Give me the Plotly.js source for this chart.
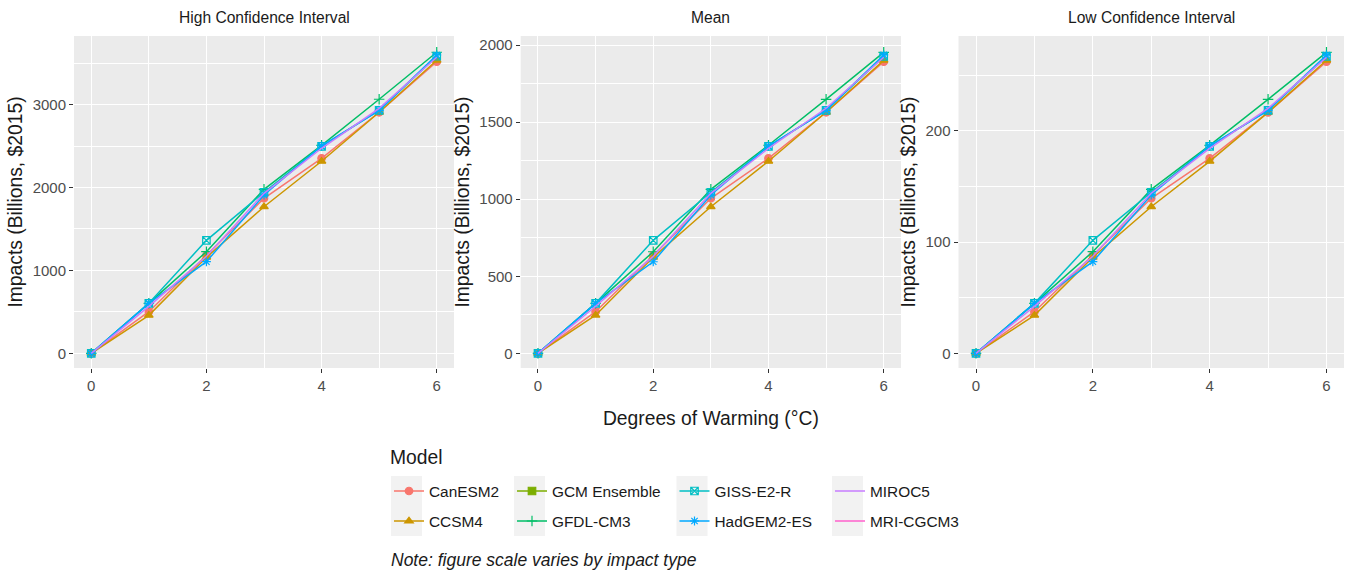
<!DOCTYPE html>
<html>
<head>
<meta charset="utf-8">
<script src="https://cdn.plot.ly/plotly-3.0.1.min.js"></script>
<style>html,body{margin:0;padding:0;background:#fff;}#chart{width:1349px;height:571px;}</style>
</head>
<body>
<div id="chart"></div>
<script>
// ---------------- DATA ----------------
const warming = [0, 1, 2, 3, 4, 5, 6];
const panelTitles = ["High Confidence Interval", "Mean", "Low Confidence Interval"];
const modelNames = ["CanESM2", "CCSM4", "GCM Ensemble", "GFDL-CM3", "GISS-E2-R", "HadGEM2-ES", "MIROC5", "MRI-CGCM3"];
const modelColors = ["#F8766D", "#CD9600", "#7CAE00", "#00BE67", "#00BFC4", "#00A9FF", "#C77CFF", "#FF61CC"];
const modelSymbols = ["circle", "triangle-up", "square", "cross-thin-open", "square-x-open", "asterisk-open", null, null];

// High Confidence Interval (Billions $2015)
const highCanESM2   = [0, 502, 1182, 1870, 2352, 2907, 3517];
const highCCSM4     = [0, 458, 1158, 1768, 2316, 2907, 3534];
const highGFDLCM3   = [0, 603, 1226, 1978, 2509, 3064, 3631];
const highGISSE2R   = [0, 603, 1363, 1942, 2497, 2931, 3583];
const highHadGEM2ES = [0, 603, 1105, 1909, 2501, 2931, 3598];
const highMIROC5    = [0, 567, 1170, 1930, 2473, 2955, 3571];

// Mean
const meanCanESM2   = [0, 270, 636, 1006, 1265, 1564, 1892];
const meanCCSM4     = [0, 247, 623, 951, 1246, 1564, 1901];
const meanGFDLCM3   = [0, 324, 659, 1064, 1350, 1648, 1953];
const meanGISSE2R   = [0, 324, 733, 1045, 1343, 1577, 1927];
const meanHadGEM2ES = [0, 324, 594, 1027, 1345, 1577, 1936];
const meanMIROC5    = [0, 305, 629, 1038, 1330, 1590, 1921];

// Low Confidence Interval
const lowCanESM2   = [0, 37.4, 88.1, 139.3, 175.2, 216.5, 262.0];
const lowCCSM4     = [0, 34.1, 86.3, 131.7, 172.5, 216.5, 263.3];
const lowGFDLCM3   = [0, 44.9, 91.3, 147.3, 186.9, 228.2, 270.4];
const lowGISSE2R   = [0, 44.9, 101.5, 144.7, 186.0, 218.3, 266.8];
const lowHadGEM2ES = [0, 44.9, 82.3, 142.2, 186.3, 218.3, 268.0];
const lowMIROC5    = [0, 42.2, 87.2, 143.8, 184.2, 220.1, 265.9];

const panelSeries = [
  {CanESM2: highCanESM2, CCSM4: highCCSM4, "GFDL-CM3": highGFDLCM3, "GISS-E2-R": highGISSE2R, "HadGEM2-ES": highHadGEM2ES, MIROC5: highMIROC5},
  {CanESM2: meanCanESM2, CCSM4: meanCCSM4, "GFDL-CM3": meanGFDLCM3, "GISS-E2-R": meanGISSE2R, "HadGEM2-ES": meanHadGEM2ES, MIROC5: meanMIROC5},
  {CanESM2: lowCanESM2, CCSM4: lowCCSM4, "GFDL-CM3": lowGFDLCM3, "GISS-E2-R": lowGISSE2R, "HadGEM2-ES": lowHadGEM2ES, MIROC5: lowMIROC5}
];

// ---------------- LAYOUT HELPERS ----------------
const W = 1349, H = 571;
const px = v => v / W;
const py = v => 1 - v / H;
const FONT = "Liberation Sans, Arial, sans-serif";

const panelX = [[74, 454], [520.7, 901], [958.5, 1344]];
const plotTop = 36, plotBottom = 368;
const yRanges = [[-177, 3827], [-95.4, 2059], [-13.2, 285.1]];
const yDticks = [1000, 500, 100];

const legendSlots = [
  [389, 491.5], [389, 521.5],
  [512, 491.5], [512, 521.5],
  [674.5, 491.5], [674.5, 521.5],
  [830, 491.5], [830, 521.5]
];

const traces = [];
for (let p = 0; p < 3; p++) {
  const xa = p === 0 ? "x" : "x" + (p + 1);
  const ya = p === 0 ? "y" : "y" + (p + 1);
  modelNames.forEach((m, i) => {
    const vals = panelSeries[p][m];
    const leg = i === 0 ? "legend" : "legend" + (i + 1);
    const hasData = !!vals;
    if (!hasData && p > 0) return;
    const t = {
      type: "scatter",
      x: hasData ? warming : [null],
      y: hasData ? vals : [null],
      xaxis: xa, yaxis: ya,
      name: m,
      legend: leg,
      legendgroup: m,
      showlegend: p === 0,
      mode: modelSymbols[i] ? "lines+markers" : "lines",
      line: {color: modelColors[i], width: 1.5},
      hoverinfo: "x+y+name"
    };
    if (modelSymbols[i]) {
      t.marker = {symbol: modelSymbols[i], size: 7.5, color: modelColors[i], line: {color: modelColors[i], width: 1.2}};
    }
    traces.push(t);
  });
}

const layout = {
  width: W, height: H,
  margin: {l: 0, r: 0, t: 0, b: 0},
  paper_bgcolor: "#ffffff",
  plot_bgcolor: "#ebebeb",
  font: {family: FONT, color: "#1a1a1a"},
  hovermode: "closest",
  shapes: [], annotations: []
};

for (let p = 0; p < 3; p++) {
  const xk = p === 0 ? "xaxis" : "xaxis" + (p + 1);
  const yk = p === 0 ? "yaxis" : "yaxis" + (p + 1);
  const yref = p === 0 ? "y" : "y" + (p + 1);
  const xref = p === 0 ? "x" : "x" + (p + 1);
  layout[xk] = {
    domain: [px(panelX[p][0]), px(panelX[p][1])],
    anchor: yref,
    range: [-0.3, 6.3],
    tick0: 0, dtick: 2,
    showgrid: true, gridcolor: "#ffffff", gridwidth: 1.4,
    minor: {dtick: 1, tick0: 0, showgrid: true, gridcolor: "#ffffff", gridwidth: 0.7, ticks: ""},
    zeroline: false, showline: false,
    ticks: "outside", ticklen: 4, tickwidth: 1, tickcolor: "#333333",
    tickfont: {family: FONT, size: 15, color: "#4d4d4d"},
    fixedrange: true
  };
  layout[yk] = {
    domain: [py(plotBottom), py(plotTop)],
    anchor: xref,
    range: yRanges[p],
    tick0: 0, dtick: yDticks[p],
    showgrid: true, gridcolor: "#ffffff", gridwidth: 1.4,
    minor: {dtick: yDticks[p] / 2, tick0: 0, showgrid: true, gridcolor: "#ffffff", gridwidth: 0.7, ticks: ""},
    zeroline: false, showline: false,
    ticks: "outside", ticklen: 4, tickwidth: 1, tickcolor: "#333333",
    tickfont: {family: FONT, size: 15, color: "#4d4d4d"},
    title: {text: "Impacts (Billions, $2015)", font: {family: FONT, size: 19.3, color: "#1a1a1a"}, standoff: 4},
    fixedrange: true
  };
  layout.annotations.push({
    xref: "paper", yref: "paper",
    x: px((panelX[p][0] + panelX[p][1]) / 2), y: py(17.5),
    xanchor: "center", yanchor: "middle",
    text: panelTitles[p], showarrow: false,
    font: {family: FONT, size: 15.6, color: "#1a1a1a"}
  });
}
layout.xaxis2.title = {text: "Degrees of Warming (°C)", font: {family: FONT, size: 19.3, color: "#1a1a1a"}, standoff: 18};

// legends: one per entry, laid out in 4 columns x 2 rows
legendSlots.forEach((s, i) => {
  const key = i === 0 ? "legend" : "legend" + (i + 1);
  layout[key] = {
    x: px(s[0]), y: py(s[1]),
    xanchor: "left", yanchor: "middle",
    bgcolor: "rgba(0,0,0,0)", borderwidth: 0,
    font: {family: FONT, size: 15.4, color: "#1a1a1a"},
    orientation: "v", itemclick: false, itemdoubleclick: false
  };
});

// key backgrounds
[[391, 422], [514, 545], [676.5, 707.5], [832, 863]].forEach(c => {
  layout.shapes.push({type: "rect", xref: "paper", yref: "paper",
    x0: px(c[0]), x1: px(c[1]), y0: py(536), y1: py(476),
    fillcolor: "#f2f2f2", line: {width: 0}, layer: "below"});
});

layout.annotations.push({
  xref: "paper", yref: "paper", x: px(388), y: py(457),
  xanchor: "left", yanchor: "middle", showarrow: false,
  text: "Model", font: {family: FONT, size: 19.3, color: "#1a1a1a"}
});
layout.annotations.push({
  xref: "paper", yref: "paper", x: px(389), y: py(560),
  xanchor: "left", yanchor: "middle", showarrow: false,
  text: "<i>Note: figure scale varies by impact type</i>",
  font: {family: FONT, size: 17.5, color: "#1a1a1a"}
});

Plotly.newPlot("chart", traces, layout, {displayModeBar: false, staticPlot: false});
</script>
</body>
</html>
